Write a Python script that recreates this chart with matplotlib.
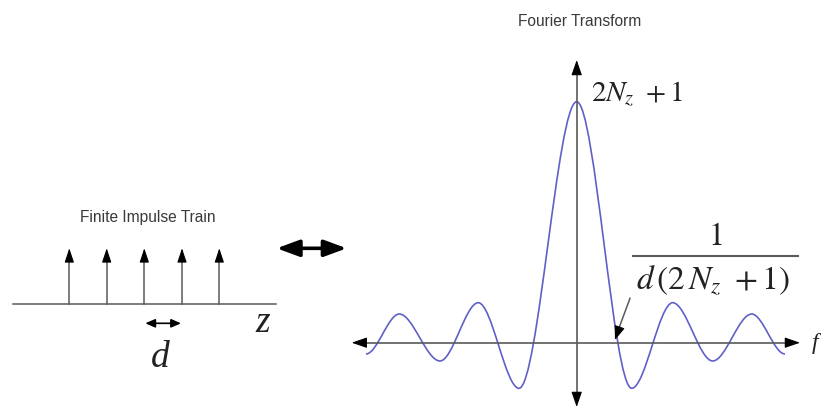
import matplotlib.pyplot as plt
from matplotlib.path import Path
from matplotlib.patches import PathPatch

plt.rcParams['mathtext.fontset'] = 'stix'

# left panel: impulse train (pixel positions)
impulse_x = [69.3, 106.7, 144.3, 182.0, 219.3]
impulse_base = 304.3
impulse_top = 248.3
train_span = (13, 276)

# right panel: extrema of the transform curve, left to right
curve_x = [366, 399.3, 440, 478.3, 519, 576.7, 631.7, 672.7, 712.7, 751.7, 785]
curve_y = [354, 314, 361, 302.7, 388.3, 101.7, 388.3, 302.7, 361, 314, 354]
axis_x0, axis_y0 = 576.7, 342.7

GRAY = '#5a5a5a'
BLUE = '#6060c8'
PX = 72 / 100  # pixels -> points


def arrow(x0, y0, x1, y1, style='-|>', hl=12, hw=4, lw=1.0, color='black'):
    ax.annotate('', xy=(x1, y1), xytext=(x0, y0),
                arrowprops=dict(arrowstyle=f'{style},head_length={hl * PX},head_width={hw * PX}',
                                mutation_scale=1, lw=lw, color=color,
                                shrinkA=0, shrinkB=0))


fig = plt.figure(figsize=(8.21, 4.17), dpi=100)
ax = fig.add_axes([0, 0, 1, 1])
ax.set_xlim(0, 821)
ax.set_ylim(417, 0)
ax.axis('off')

sans = dict(family='Liberation Sans', fontsize=11.2, color='#3a3a3a', ha='center', va='center')
serif_it = dict(family='Liberation Serif', style='italic', color='#222222', ha='center', va='center')

# ---- impulse train
ax.text(147.5, 217, 'Finite Impulse Train', **sans)
ax.plot(train_span, [impulse_base] * 2, color=GRAY, lw=1.1)
for x in impulse_x:
    ax.plot([x, x], [impulse_base, impulse_top + 10], color=GRAY, lw=1.1)
    arrow(x, impulse_top + 12, x, impulse_top, hl=12, hw=4, lw=0.8)
arrow(impulse_x[2] + 1, 323.3, impulse_x[3] - 1, 323.3, style='<|-|>', hl=8, hw=3.5, lw=1.2)
ax.text(263, 323, 'z', fontsize=27, **serif_it)
ax.text(160, 358, 'd', fontsize=27, **serif_it)

# ---- big double arrow between the panels
arrow(276.7, 248.3, 346.7, 248.3, style='<|-|>', hl=19, hw=7, lw=2.6)

# ---- Fourier transform panel
ax.text(580, 21, 'Fourier Transform', **sans)

# axes
ax.plot([axis_x0, axis_x0], [72, 395], color=GRAY, lw=1.2)
arrow(axis_x0, 74, axis_x0, 60, hl=13, hw=4.5, lw=0.8)
arrow(axis_x0, 393, axis_x0, 407, hl=13, hw=4.5, lw=0.8)
ax.plot([363, 788], [axis_y0] * 2, color=GRAY, lw=1.2)
arrow(365, axis_y0, 351.7, axis_y0, hl=13, hw=4.5, lw=0.8)
arrow(786, axis_y0, 800, axis_y0, hl=13, hw=4.5, lw=0.8)

# curve through the extrema, horizontal tangent at each one
verts = [(curve_x[0], curve_y[0])]
codes = [Path.MOVETO]
for (xa, ya), (xb, yb) in zip(zip(curve_x[:-1], curve_y[:-1]), zip(curve_x[1:], curve_y[1:])):
    dx = xb - xa
    verts += [(xa + dx / 3, ya), (xb - dx / 3, yb), (xb, yb)]
    codes += [Path.CURVE4] * 3
ax.add_patch(PathPatch(Path(verts, codes), fill=False, edgecolor=BLUE, lw=1.2))

# labels
ax.text(815, 344, 'f', fontsize=17, **serif_it)
ax.text(591, 94, r'$2N_z\ +1$', fontsize=21, color='#222222', ha='left', va='center')
ax.text(715, 236, r'$1$', fontsize=23, color='#222222', ha='center', va='center')
ax.plot([633.3, 798.3], [256, 256], color=GRAY, lw=1.5)
ax.text(713, 280, r'$d\,(2\,N_z\ +1)$', fontsize=24, color='#222222', ha='center', va='center')
ax.plot([630, 619], [298.3, 328], color=GRAY, lw=1.1)
arrow(619.5, 327, 615, 340, hl=12, hw=4.5, lw=0.8)

fig.savefig('out.png', dpi=100)
